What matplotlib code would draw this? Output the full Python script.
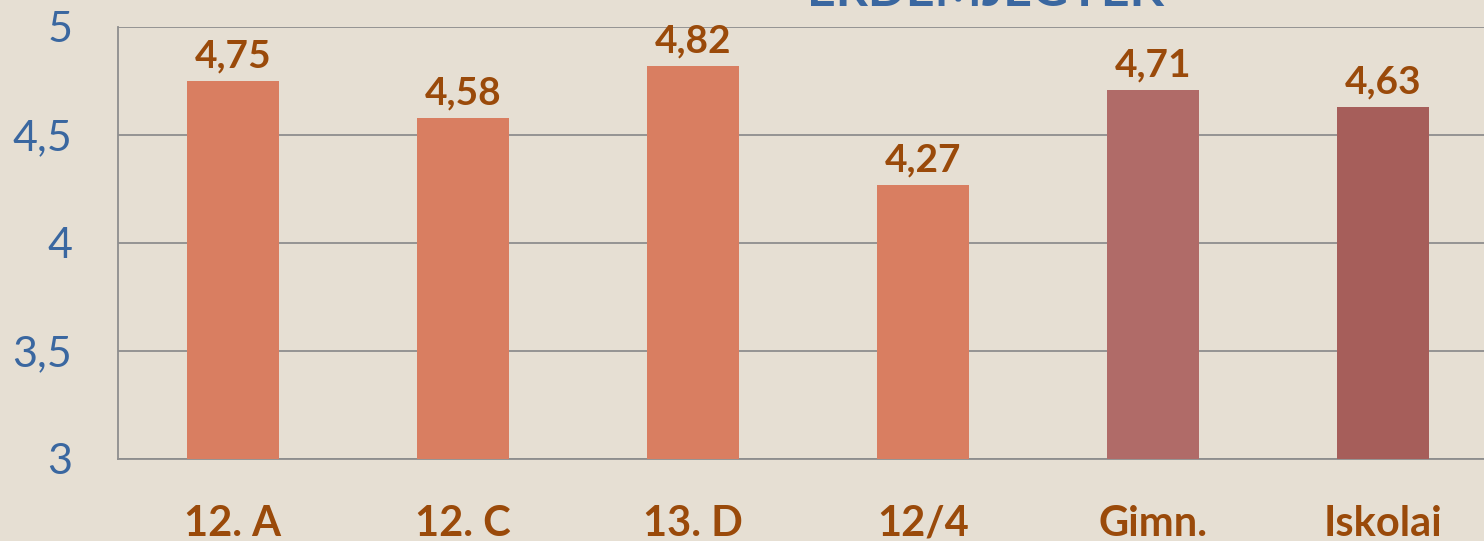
import matplotlib.pyplot as plt

# Adatok
kategoriak = ["12. A", "12. C", "13. D", "12/4", "Gimn.", "Iskolai"]
atlagok = [4.75, 4.58, 4.82, 4.27, 4.71, 4.63]
szinek = ["#D97E61", "#D97E61", "#D97E61", "#D97E61", "#B06B68", "#A65E5A"]
y_tickek = [3, 3.5, 4, 4.5, 5]
cim = "ERDEMJEGYEK"

hatter = "#E6DFD3"
barna = "#9A4A0A"
kek = "#3A67A0"

plt.rcParams['font.family'] = ['Lato', 'DejaVu Sans']

fig = plt.figure(figsize=(14.84, 5.41), dpi=100, facecolor=hatter)
ax = fig.add_axes([0.0795, 0.1516, 0.93, 0.7985])
ax.set_facecolor(hatter)

x = range(len(kategoriak))
ax.bar(x, [a - 3 for a in atlagok], bottom=3, width=0.4, color=szinek, zorder=3)

ax.set_xlim(-0.5, len(kategoriak) - 0.5)
ax.set_ylim(3, 5)
ax.set_yticks(y_tickek)
ax.set_yticklabels([f"{t:g}".replace(".", ",") for t in y_tickek],
                   fontsize=31, color=kek)
ax.set_xticks(list(x))
ax.set_xticklabels(kategoriak, fontsize=30, fontweight="bold", color=barna)
ax.tick_params(axis="y", length=0, pad=33)
ax.tick_params(axis="x", length=0, pad=33)

ax.grid(axis="y", color="#8E8E8E", linewidth=1.3, zorder=1)
for s in ["top", "right"]:
    ax.spines[s].set_visible(False)
ax.spines["left"].set_color("#8E8E8E")
ax.spines["bottom"].set_color("#8E8E8E")
ax.spines["left"].set_linewidth(1.3)
ax.spines["bottom"].set_linewidth(1.3)

# Értékcímkék
for i, a in enumerate(atlagok):
    ax.text(i, a + 0.035, f"{a:.2f}".replace(".", ","), ha="center", va="bottom",
            fontsize=28, fontweight="bold", color=barna, zorder=4)

fig.text(0.664, 0.989, cim, ha="center", va="baseline", fontsize=36,
         fontweight="bold", color=kek)

fig.savefig("out.png", dpi=100, facecolor=hatter)
